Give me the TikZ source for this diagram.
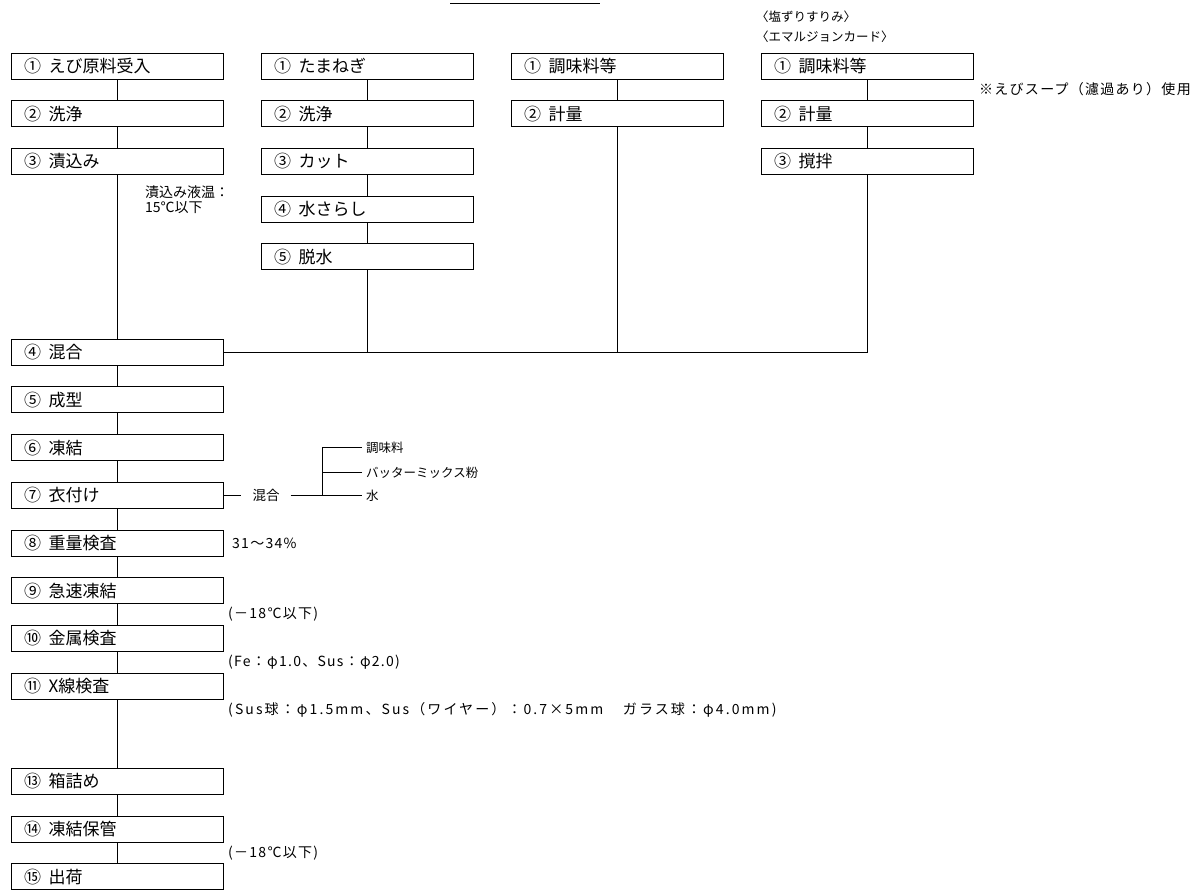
\documentclass[tikz,border=0pt]{standalone}
\usepackage{fontspec}
\setmainfont{Noto Sans CJK JP}
\newfontfamily\spacednote[LetterSpace=9]{Noto Sans CJK JP}
\newfontfamily\widenote[LetterSpace=15]{Noto Sans CJK JP}
\newcommand\bxgap{\hspace{0.45em}}
\begin{document}
\begin{tikzpicture}[x=1pt,y=-1pt,
  box/.style={draw, line width=0.9pt, minimum height=26pt, text width=186pt,
    inner xsep=13pt, inner ysep=0pt, align=left, anchor=center,
    font=\fontsize{17}{19}\selectfont},
  note/.style={font=\fontsize{12.5}{15}\selectfont, inner sep=0pt, anchor=west, align=left},
  wnote/.style={font=\spacednote\fontsize{14}{16}\selectfont, inner sep=0pt, anchor=west, align=left},
  item/.style={font=\fontsize{12.5}{15}\selectfont, inner xsep=4pt, inner ysep=0pt, anchor=west},
  link/.style={line width=0.9pt}]
\useasboundingbox (0,0) rectangle (1204,889);

% title underline (cut-off title)
\draw[link] (450,3) -- (600,3);

% column 1
\node[box] (a1)  at (117,66.0)  {①\bxgap えび原料受入};
\node[box] (a2)  at (117,113.7) {②\bxgap 洗浄};
\node[box] (a3)  at (117,161.4) {③\bxgap 漬込み};
\node[box] (a4)  at (117,352.2) {④\bxgap 混合};
\node[box] (a5)  at (117,399.9) {⑤\bxgap 成型};
\node[box] (a6)  at (117,447.6) {⑥\bxgap 凍結};
\node[box] (a7)  at (117,495.3) {⑦\bxgap 衣付け};
\node[box] (a8)  at (117,543.0) {⑧\bxgap 重量検査};
\node[box] (a9)  at (117,590.7) {⑨\bxgap 急速凍結};
\node[box] (a10) at (117,638.4) {⑩\bxgap 金属検査};
\node[box] (a11) at (117,686.1) {⑪\bxgap X線検査};
\node[box] (a13) at (117,781.5) {⑬\bxgap 箱詰め};
\node[box] (a14) at (117,829.2) {⑭\bxgap 凍結保管};
\node[box] (a15) at (117,876.9) {⑮\bxgap 出荷};

% column 2
\node[box] (b1) at (367,66.0)  {①\bxgap たまねぎ};
\node[box] (b2) at (367,113.7) {②\bxgap 洗浄};
\node[box] (b3) at (367,161.4) {③\bxgap カット};
\node[box] (b4) at (367,209.1) {④\bxgap 水さらし};
\node[box] (b5) at (367,256.8) {⑤\bxgap 脱水};

% column 3
\node[box] (c1) at (617,66.0)  {①\bxgap 調味料等};
\node[box] (c2) at (617,113.7) {②\bxgap 計量};

% column 4
\node[box] (d1) at (867,66.0)  {①\bxgap 調味料等};
\node[box] (d2) at (867,113.7) {②\bxgap 計量};
\node[box] (d3) at (867,161.4) {③\bxgap 撹拌};

% connectors column 1
\foreach \p/\q in {a1/a2,a2/a3,a3/a4,a4/a5,a5/a6,a6/a7,a7/a8,a8/a9,a9/a10,a10/a11,a11/a13,a13/a14,a14/a15}
  \draw[link] (\p) -- (\q);
% column 2
\foreach \p/\q in {b1/b2,b2/b3,b3/b4,b4/b5}
  \draw[link] (\p) -- (\q);
\draw[link] (b5) -- (b5 |- a4.east);
% column 3
\draw[link] (c1) -- (c2);
\draw[link] (c2) -- (c2 |- a4.east);
% column 4
\draw[link] (d1) -- (d2);
\draw[link] (d2) -- (d3);
\draw[link] (a4.east) -- (d3.south |- a4.east) -- (d3.south);

% annotations
\node[note, font=\fontsize{14}{15.5}\selectfont] (n1) at (145,199.5) {漬込み液温：\\15℃以下};
\node[note] (n2) at (756,17) {〈塩ずりすりみ〉};
\node[note] (n3) at (756,37) {〈エマルジョンカード〉};
\node[wnote] (n4) at (979,89) {※えびスープ（濾過あり）使用};
\node[wnote] (n5) at (232,543.0) {31～34\%};
\node[wnote] (n6) at (228,614) {(－18℃以下)};
\node[wnote] (n7) at (228,662) {(Fe：φ1.0、Sus：φ2.0)};
\node[wnote, font=\widenote\fontsize{14}{16}\selectfont] (n8) at (228,710) {(Sus球：φ1.5mm、Sus（ワイヤー）：0.7×5mm\hspace{1.4em}ガラス球：φ4.0mm)};
\node[wnote] (n9) at (228,853) {(－18℃以下)};

% coating branch
\node[font=\fontsize{13.5}{15}\selectfont, inner xsep=11pt, inner ysep=0pt] (mix) at (266,495.3) {混合};
\node[item] (s1) at (362,447.6) {調味料};
\node[item] (s2) at (362,472.3) {バッターミックス粉};
\node[item] (s3) at (362,495.3) {水};
\coordinate (br) at (322,495.3);
\draw[link] (a7.east) -- (mix.west);
\draw[link] (mix.east) -- (s3.west);
\draw[link] (s1.west) -| (br);
\draw[link] (s2.west) -- (s2.west -| br);
\end{tikzpicture}
\end{document}
